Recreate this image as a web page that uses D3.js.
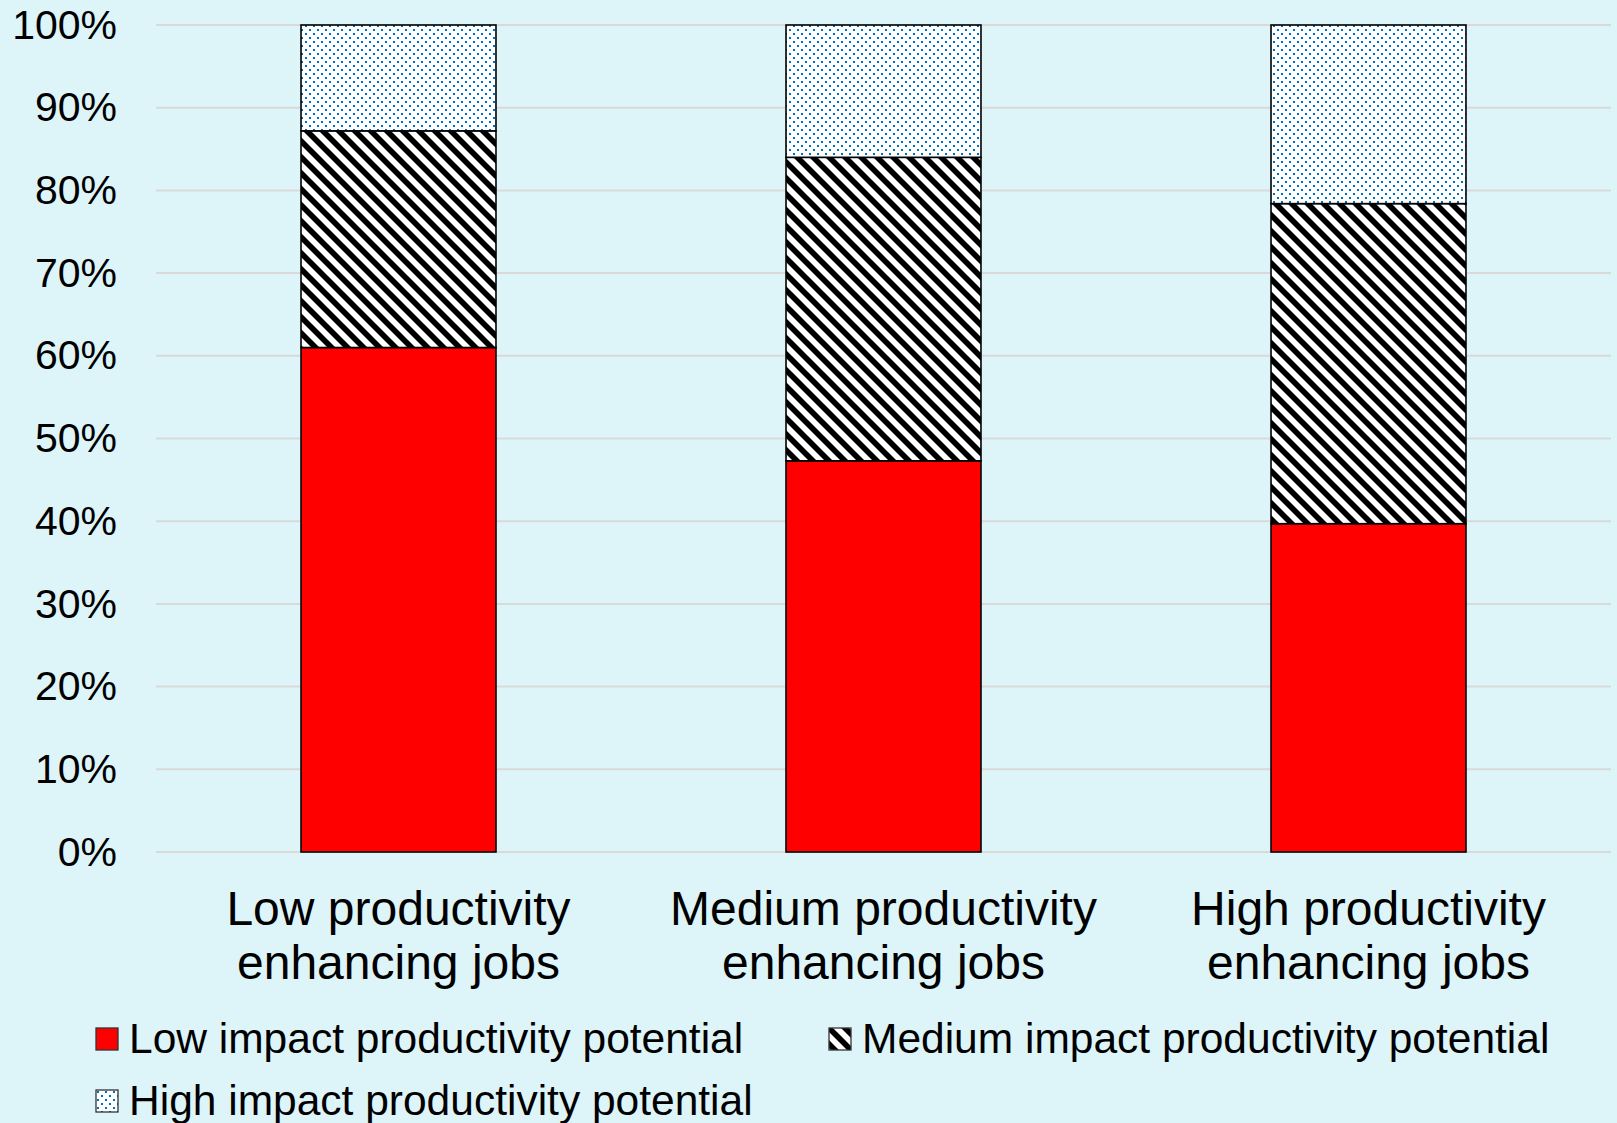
<!DOCTYPE html>
<html>
<head>
<meta charset="utf-8">
<script src="https://cdn.jsdelivr.net/npm/d3@7/dist/d3.min.js"></script>
<style>
  html, body { margin: 0; padding: 0; background: #ddf4f9; }
  svg { display: block; font-family: "Liberation Sans", Arial, sans-serif; }
</style>
</head>
<body>
<svg id="chart" width="1617" height="1123"></svg>
<script>
// Job categories (two-line axis labels)
const categories = ["Low productivity enhancing jobs", "Medium productivity enhancing jobs", "High productivity enhancing jobs"];
const categoryLines = [
  ["Low productivity", "enhancing jobs"],
  ["Medium productivity", "enhancing jobs"],
  ["High productivity", "enhancing jobs"]
];

// Share of each impact level within a job category (%)
const lowImpact = [61.0, 47.3, 39.7];
const mediumImpact = [26.2, 36.7, 38.7];
const highImpact = [12.8, 16.0, 21.6];

const seriesNames = ["Low impact productivity potential", "Medium impact productivity potential", "High impact productivity potential"];
const yTicks = [0, 10, 20, 30, 40, 50, 60, 70, 80, 90, 100];

const svg = d3.select("#chart");
svg.append("rect").attr("width", 1617).attr("height", 1123).attr("fill", "#ddf4f9");

// Fill patterns
const defs = svg.append("defs");
const hatch = defs.append("pattern")
  .attr("id", "hatch").attr("patternUnits", "userSpaceOnUse")
  .attr("width", 16).attr("height", 16);
hatch.append("rect").attr("width", 16).attr("height", 16).attr("fill", "#fff");
[[-16, -16, 32, 32], [0, -16, 32, 16], [-16, 0, 16, 32]].forEach(d => {
  hatch.append("line")
    .attr("x1", d[0]).attr("y1", d[1]).attr("x2", d[2]).attr("y2", d[3])
    .attr("stroke", "#000").attr("stroke-width", 5.6);
});

const dots = defs.append("pattern")
  .attr("id", "dots").attr("patternUnits", "userSpaceOnUse")
  .attr("width", 8).attr("height", 8);
dots.append("rect").attr("width", 8).attr("height", 8).attr("fill", "#fff");
dots.append("rect").attr("x", 1).attr("y", 1).attr("width", 2).attr("height", 2).attr("fill", "#0070c0");
dots.append("rect").attr("x", 5).attr("y", 5).attr("width", 2).attr("height", 2).attr("fill", "#0070c0");

const fills = ["#ff0000", "url(#hatch)", "url(#dots)"];

// Scales
const x = d3.scaleBand().domain(categories).range([156, 1611])
  .paddingInner(0.598).paddingOuter(0.299);
const y = d3.scaleLinear().domain([0, 100]).range([852, 25]);

// Gridlines
svg.append("g").selectAll("line").data(yTicks).join("line")
  .attr("x1", 156).attr("x2", 1611)
  .attr("y1", d => y(d)).attr("y2", d => y(d))
  .attr("stroke", "#d9d9d9").attr("stroke-width", 2);

// Y axis labels
const yAxis = d3.axisLeft(y).tickValues(yTicks).tickFormat(d => d + "%").tickSize(0).tickPadding(0);
const yg = svg.append("g").attr("transform", "translate(117,0)").call(yAxis);
yg.select(".domain").remove();
yg.selectAll("text")
  .attr("font-size", 41).attr("fill", "#000")
  .attr("font-family", "'Liberation Sans', Arial, sans-serif");

// Stacked bars
const rows = categories.map((c, i) => ({ cat: c, vals: [lowImpact[i], mediumImpact[i], highImpact[i]] }));
const stack = d3.stack().keys([0, 1, 2]).value((d, k) => d.vals[k]);
const layers = stack(rows);

svg.append("g").selectAll("g").data(layers).join("g")
  .attr("fill", (d, i) => fills[i])
  .selectAll("rect").data(d => d).join("rect")
  .attr("x", d => x(d.data.cat))
  .attr("width", x.bandwidth())
  .attr("y", d => y(d[1]))
  .attr("height", d => y(d[0]) - y(d[1]))
  .attr("stroke", "#000").attr("stroke-width", 1.6);

// Category labels
const catG = svg.append("g");
categories.forEach((c, i) => {
  const t = catG.append("text")
    .attr("text-anchor", "middle")
    .attr("font-size", 48).attr("fill", "#000");
  categoryLines[i].forEach((line, j) => {
    t.append("tspan")
      .attr("x", x(c) + x.bandwidth() / 2)
      .attr("y", 925 + j * 54)
      .text(line);
  });
});

// Legend
const legendItems = [
  { name: seriesNames[0], fill: fills[0], x: 96, y: 1028 },
  { name: seriesNames[1], fill: fills[1], x: 829, y: 1028 },
  { name: seriesNames[2], fill: fills[2], x: 96, y: 1090 }
];
const lg = svg.append("g").selectAll("g").data(legendItems).join("g")
  .attr("transform", d => `translate(${d.x},${d.y})`);
lg.append("rect").attr("width", 22).attr("height", 22)
  .attr("fill", d => d.fill).attr("stroke", "#333").attr("stroke-width", 1.3);
lg.append("text").attr("x", 33).attr("y", 25)
  .attr("font-size", 42.5).attr("fill", "#000")
  .text(d => d.name);
</script>
</body>
</html>
